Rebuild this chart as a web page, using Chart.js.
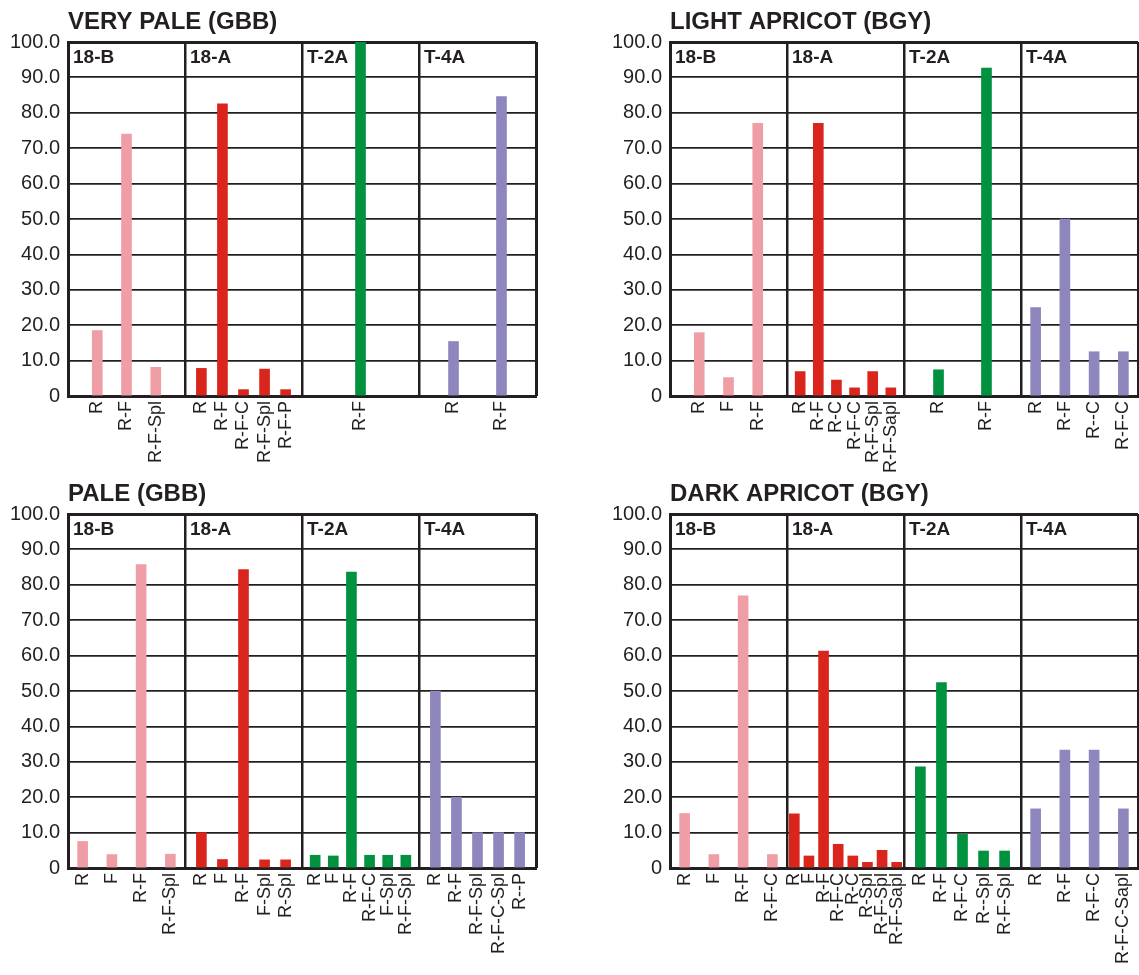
<!DOCTYPE html>
<html>
<head>
<meta charset="utf-8">
<title>Fracture patterns by colour class</title>
<script src="https://cdn.jsdelivr.net/npm/chart.js@4.4.1/dist/chart.umd.min.js"></script>
<style>
  html, body { margin: 0; background: #fff; overflow: hidden; }
  body { width: 1139px; height: 975px; position: relative; }
  .panel { position: absolute; height: 503px; }
  .panel canvas { display: block; }
</style>
</head>
<body>
<div class="panel" style="left:0;top:0;width:540px"><canvas id="veryPale" width="540" height="503"></canvas></div>
<div class="panel" style="left:602px;top:0;width:537px"><canvas id="lightApricot" width="537" height="503"></canvas></div>
<div class="panel" style="left:0;top:472px;width:540px"><canvas id="pale" width="540" height="503"></canvas></div>
<div class="panel" style="left:602px;top:472px;width:537px"><canvas id="darkApricot" width="537" height="503"></canvas></div>
<script>
// sample groups, same order in every panel
const groupNames = ['18-B', '18-A', 'T-2A', 'T-4A'];

// VERY PALE (GBB)
const veryPaleLabels = [['R', 'R-F', 'R-F-Spl'], ['R', 'R-F', 'R-F-C', 'R-F-Spl', 'R-F-P'], ['R-F'], ['R', 'R-F']];
const veryPaleValues = [[18.5, 74.0, 8.1], [7.8, 82.5, 1.8, 7.6, 1.8], [100.0], [15.4, 84.6]];

// LIGHT APRICOT (BGY)
const lightApricotLabels = [['R', 'F', 'R-F'], ['R', 'R-F', 'R-C', 'R-F-C', 'R-F-Spl', 'R-F-Sapl'], ['R', 'R-F'], ['R', 'R-F', 'R--C', 'R-F-C']];
const lightApricotValues = [[17.9, 5.2, 77.0], [6.9, 77.0, 4.5, 2.3, 6.9, 2.3], [7.4, 92.6], [25.0, 50.0, 12.5, 12.5]];

// PALE (GBB)
const paleLabels = [['R', 'F', 'R-F', 'R-F-Spl'], ['R', 'F', 'R-F', 'F-Spl', 'R-Spl'], ['R', 'F', 'R-F', 'R-F-C', 'F-Spl', 'R-F-Spl'], ['R', 'R-F', 'R-F-Spl', 'R-F-C-Spl', 'R--P']];
const paleValues = [[7.5, 3.8, 85.7, 3.9], [10.0, 2.4, 84.3, 2.3, 2.3], [3.6, 3.4, 83.6, 3.6, 3.6, 3.6], [50.0, 20.0, 10.0, 10.0, 10.0]];

// DARK APRICOT (BGY)
const darkApricotLabels = [['R', 'F', 'R-F', 'R-F-C'], ['R', 'F', 'R-F', 'R-F-C', 'R-C', 'R-Spl', 'R-F-Spl', 'R-F-Sapl'], ['R', 'R-F', 'R-F-C', 'R--Spl', 'R-F-Spl'], ['R', 'R-F', 'R-F-C', 'R-F-C-Sapl']];
const darkApricotValues = [[15.4, 3.8, 76.9, 3.8], [15.3, 3.4, 61.3, 6.7, 3.4, 1.6, 5.0, 1.6], [28.6, 52.4, 9.5, 4.8, 4.8], [16.7, 33.3, 33.3, 16.7]];

const groupColors = ['#ef9ea6', '#da251d', '#00923f', '#8d87bd'];
const ink = '#231f20';
const family = '"Liberation Sans", Arial, sans-serif';

// distance between bar centres (in group widths) depending on how many bars a group holds
const spacingByCount = { 1: 0, 2: 0.41, 3: 0.25, 4: 0.25, 5: 0.18, 6: 0.155, 7: 0.14, 8: 0.125 };

function slotPositions(g, n) {
  const s = spacingByCount[n];
  const out = [];
  for (let i = 0; i < n; i++) out.push(g + 0.5 + (i - (n - 1) / 2) * s);
  return out;
}

// title + group captions drawn inside the plot
const panelText = {
  id: 'panelText',
  afterDraw(chart, args, opts) {
    const { ctx, chartArea, scales } = chart;
    ctx.save();
    ctx.fillStyle = ink;
    ctx.textAlign = 'left';
    ctx.textBaseline = 'alphabetic';
    ctx.font = 'bold 24px ' + family;
    ctx.fillText(opts.title, chartArea.left, 29);
    ctx.font = 'bold 19px ' + family;
    groupNames.forEach(function(name, g) {
      ctx.fillText(name, scales.x.getPixelForValue(g) + 5, chartArea.top + 21);
    });
    ctx.restore();
  }
};

function tickValue(c) {
  return c && c.tick ? c.tick.value : null;
}

function makePanel(id, title, labels, values) {
  const canvas = document.getElementById(id);
  const tickPos = [];
  const tickText = [];
  const datasets = labels.map(function(labs, g) {
    const xs = slotPositions(g, labs.length);
    xs.forEach(function(x, i) { tickPos.push(x); tickText.push(labs[i]); });
    return {
      data: values[g].map(function(v, i) { return { x: xs[i], y: v }; }),
      backgroundColor: groupColors[g],
      barThickness: 10,
      grouped: false
    };
  });

  return new Chart(canvas, {
    type: 'bar',
    data: { datasets: datasets },
    options: {
      responsive: false,
      animation: false,
      layout: { padding: { top: 42, right: canvas.width - 536, left: 0, bottom: 0 } },
      plugins: {
        legend: { display: false },
        tooltip: { enabled: false },
        panelText: { title: title }
      },
      scales: {
        x: {
          type: 'linear', min: 0, max: 4, offset: false,
          afterBuildTicks: function(s) { s.ticks = tickPos.map(function(v) { return { value: v }; }); },
          afterFit: function(s) { s.height = 107; s.paddingLeft = 0; s.paddingRight = 0; },
          ticks: {
            autoSkip: false, minRotation: 90, maxRotation: 90, padding: 5,
            color: ink, font: { family: family, size: 18 },
            callback: function(v, i) { return tickText[i]; }
          },
          grid: { display: false, drawTicks: false, offset: false },
          border: { color: ink, width: 3 }
        },
        x2: {
          type: 'linear', position: 'top', min: 0, max: 4, offset: false,
          afterFit: function(s) { s.height = 0; s.paddingLeft = 0; s.paddingRight = 0; },
          ticks: { display: false, stepSize: 1 },
          grid: {
            color: ink, drawTicks: false, offset: false,
            lineWidth: function(c) { const v = tickValue(c); return (v === 0 || v === 4) ? 3 : 2.5; }
          },
          border: { display: false, width: 0 }
        },
        y: {
          min: 0, max: 100,
          afterFit: function(s) { s.width = 68; },
          ticks: {
            stepSize: 10, padding: 8, color: ink, font: { family: family, size: 20 },
            callback: function(v) { return v === 0 ? '0' : v.toFixed(1); }
          },
          grid: {
            color: ink, drawTicks: false,
            lineWidth: function(c) { return tickValue(c) === 100 ? 3 : 1.8; }
          },
          border: { color: ink, width: 3 }
        }
      }
    },
    plugins: [panelText]
  });
}

makePanel('veryPale', 'VERY PALE (GBB)', veryPaleLabels, veryPaleValues);
makePanel('lightApricot', 'LIGHT APRICOT (BGY)', lightApricotLabels, lightApricotValues);
makePanel('pale', 'PALE (GBB)', paleLabels, paleValues);
makePanel('darkApricot', 'DARK APRICOT (BGY)', darkApricotLabels, darkApricotValues);
</script>
</body>
</html>
